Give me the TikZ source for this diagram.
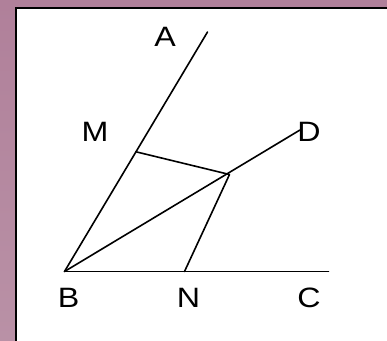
\documentclass[tikz,border=0pt]{standalone}
\usepackage{fontspec}
\setmainfont{Liberation Sans}
\usepackage{graphicx}
\definecolor{mauvetop}{RGB}{176,128,154}
\definecolor{mauvebot}{RGB}{185,145,166}
\tikzset{
  seg/.style={line width=1.6pt, line cap=round, line join=round},
  lbl/.style={inner sep=0pt, font=\fontsize{28}{28}\selectfont},
}
\newcommand{\wl}[1]{\scalebox{1.15}[1]{#1}}
\begin{document}
\begin{tikzpicture}[x=1pt,y=-1pt]
\useasboundingbox (0,0) rectangle (387,340);
\clip (0,0) rectangle (387,340);
\shade[top color=mauvetop, bottom color=mauvebot] (0,0) rectangle (387,340);
\draw[fill=white, line width=2pt] (16,7.7) rectangle (400,360);
% points
\coordinate (B) at (64.5,271.5);
\coordinate (A) at (207.5,32);
\coordinate (M) at (136,151.8);
\coordinate (P) at (229.5,174.5);
\coordinate (D) at (300,130);
\coordinate (N) at (184.5,271.5);
\coordinate (C) at (328.5,271.5);
% segments
\draw[seg] (B) -- (A);
\draw[seg] (B) -- (D);
\draw[seg] (B) -- (C);
\draw[seg] (M) -- (P) -- (N);
% labels
\node[lbl] (lA) at (165,36.5) {\wl{A}};
\node[lbl] (lM) at (95,131.5) {\wl{M}};
\node[lbl] (lD) at (309,131.5) {\wl{D}};
\node[lbl] (lB) at (68.5,298) {\wl{B}};
\node[lbl] (lN) at (188.5,298) {\wl{N}};
\node[lbl] (lC) at (309,298) {\wl{C}};
\end{tikzpicture}
\end{document}
